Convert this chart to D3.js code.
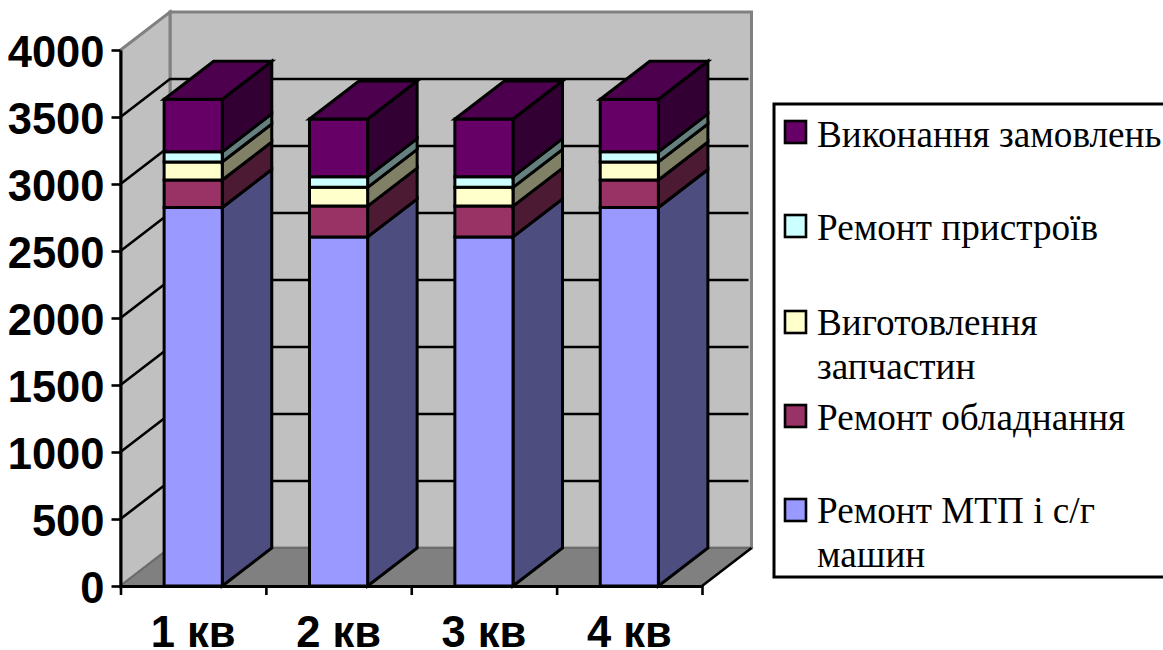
<!DOCTYPE html>
<html>
<head>
<meta charset="utf-8">
<script src="https://cdn.jsdelivr.net/npm/d3@7/dist/d3.min.js"></script>
<style>
html,body{margin:0;padding:0;background:#fff;overflow:hidden}
svg{display:block}
</style>
</head>
<body>
<svg id="chart" width="1163" height="650"></svg>
<script>
// Quarterly workload by type of work, stacked from the bottom up.
const quarters = ["1 кв", "2 кв", "3 кв", "4 кв"];
const repairMachines = [2825, 2605, 2605, 2825];
const repairEquipment = [205, 230, 230, 205];
const spareParts = [135, 140, 140, 135];
const repairDevices = [75, 80, 80, 75];
const orders = [392, 430, 430, 392];
const yTicks = [0, 500, 1000, 1500, 2000, 2500, 3000, 3500, 4000];

const seriesNames = ["Ремонт МТП і с/г машин", "Ремонт обладнання", "Виготовлення запчастин", "Ремонт пристроїв", "Виконання замовлень"];
const seriesValues = [repairMachines, repairEquipment, spareParts, repairDevices, orders];
const frontColors = ["#9999ff", "#993366", "#ffffcc", "#ccffff", "#660066"];
const sideColors = ["#4d4d80", "#4d1a33", "#808066", "#668080", "#330033"];
const topColors = ["#7a7acc", "#7a2952", "#cccca3", "#a3cccc", "#4d004d"];

// Multi-line legend labels with their baselines and swatch positions.
const legendLines = [
  ["Виконання замовлень"],
  ["Ремонт пристроїв"],
  ["Виготовлення", "запчастин"],
  ["Ремонт обладнання"],
  ["Ремонт МТП і с/г", "машин"]
];
const legendBaselines = [146.5, 239.5, 334.5, 429.5, 523];
const legendSwatchTops = [121, 215, 311, 405, 499];
const legendLineGap = 44;

const svg = d3.select("#chart");
const depthX = 49.5, depthY = -38;
const left = 120.5, right = 702, base = 586, top4000 = 50;

const y = d3.scaleLinear().domain([0, 4000]).range([base, top4000]);
const x = d3.scaleBand().domain(quarters).range([left, right]).paddingInner(0.6).paddingOuter(0.3);
const xEdges = d3.scaleLinear().domain([0, quarters.length]).range([left, right]);

const poly = (pts) => d3.line()(pts) + "Z";

// Back wall, side wall and floor of the box.
const walls = svg.append("g");
walls.append("path")
  .attr("d", poly([[left + depthX, y(0) + depthY], [left + depthX, y(4000) + depthY], [right + depthX, y(4000) + depthY], [right + depthX, y(0) + depthY]]))
  .attr("fill", "#c0c0c0").attr("stroke", "#808080").attr("stroke-width", 3);
walls.append("path")
  .attr("d", poly([[left, y(0)], [left, y(4000)], [left + depthX, y(4000) + depthY], [left + depthX, y(0) + depthY]]))
  .attr("fill", "#c0c0c0").attr("stroke", "#808080").attr("stroke-width", 3);
walls.append("path")
  .attr("d", poly([[left, y(0)], [left + depthX, y(0) + depthY], [right + depthX, y(0) + depthY], [right, y(0)]]))
  .attr("fill", "#808080").attr("stroke", "#666").attr("stroke-width", 1.5);

// Gridlines run along the side wall and across the back wall.
const grid = svg.append("g").attr("fill", "none").attr("stroke", "#000").attr("stroke-width", 2.6);
yTicks.filter(t => t > 0 && t < 4000).forEach(t => {
  grid.append("path").attr("d", d3.line()([
    [left, y(t)], [left + depthX, y(t) + depthY], [right + depthX - 3, y(t) + depthY]
  ]));
});

// Right edge of the floor.
svg.append("path")
  .attr("d", d3.line()([[right, y(0)], [right + depthX, y(0) + depthY]]))
  .attr("fill", "none").attr("stroke", "#000").attr("stroke-width", 2.6);

// Stacked columns: one side face and front face per segment, one cap on top.
const bars = svg.append("g").attr("stroke", "#000").attr("stroke-width", 3).attr("stroke-linejoin", "miter");
quarters.forEach((q, qi) => {
  const x0 = x(q), x1 = x0 + x.bandwidth();
  let sum = 0;
  seriesValues.forEach((vals, si) => {
    const lo = y(sum), hi = y(sum + vals[qi]);
    sum += vals[qi];
    bars.append("path")
      .attr("d", poly([[x1, lo], [x1 + depthX, lo + depthY], [x1 + depthX, hi + depthY], [x1, hi]]))
      .attr("fill", sideColors[si]);
    bars.append("path")
      .attr("d", poly([[x0, lo], [x1, lo], [x1, hi], [x0, hi]]))
      .attr("fill", frontColors[si]);
    if (si === seriesValues.length - 1) {
      bars.append("path")
        .attr("d", poly([[x0, hi], [x1, hi], [x1 + depthX, hi + depthY], [x0 + depthX, hi + depthY]]))
        .attr("fill", topColors[si]);
    }
  });
});

// Value axis.
const yAxis = svg.append("g")
  .attr("transform", `translate(${left},0)`)
  .call(d3.axisLeft(y).tickValues(yTicks).tickSize(9).tickSizeOuter(0).tickPadding(7).tickFormat(d3.format("d")));
yAxis.selectAll("line").attr("stroke", "#000").attr("stroke-width", 2.6);
yAxis.select(".domain").attr("stroke", "#000").attr("stroke-width", 3);
yAxis.selectAll("text")
  .attr("dy", "0.38em")
  .attr("font-family", "'Liberation Sans', Arial, sans-serif")
  .attr("font-weight", "bold").attr("font-size", 43.5).attr("fill", "#000");

// Category axis: ticks sit between columns, labels under each column.
const xAxis = svg.append("g")
  .attr("transform", `translate(0,${base})`)
  .call(d3.axisBottom(xEdges).tickValues(d3.range(quarters.length + 1)).tickSize(9).tickSizeOuter(0).tickFormat(""));
xAxis.selectAll("line").attr("stroke", "#000").attr("stroke-width", 2.6);
xAxis.select(".domain").attr("stroke", "#000").attr("stroke-width", 3);

svg.append("g").selectAll("text").data(quarters).join("text")
  .attr("x", d => x(d) + x.bandwidth() / 2)
  .attr("y", 646.5)
  .attr("text-anchor", "middle")
  .attr("font-family", "'Liberation Sans', Arial, sans-serif")
  .attr("font-weight", "bold").attr("font-size", 43.5).attr("fill", "#000")
  .text(d => d);

// Legend, listed top to bottom in reverse stacking order.
const legend = svg.append("g");
legend.append("rect")
  .attr("x", 774).attr("y", 104).attr("width", 420).attr("height", 473)
  .attr("fill", "#fff").attr("stroke", "#000").attr("stroke-width", 3);
legendLines.forEach((lines, i) => {
  legend.append("rect")
    .attr("x", 785).attr("y", legendSwatchTops[i]).attr("width", 21).attr("height", 22)
    .attr("fill", frontColors[seriesValues.length - 1 - i])
    .attr("stroke", "#000").attr("stroke-width", 2.6);
  lines.forEach((line, k) => {
    legend.append("text")
      .attr("x", 817).attr("y", legendBaselines[i] + k * legendLineGap)
      .attr("font-family", "'Liberation Serif', 'Times New Roman', serif")
      .attr("font-size", 37.2).attr("fill", "#000")
      .text(line);
  });
});
</script>
</body>
</html>
